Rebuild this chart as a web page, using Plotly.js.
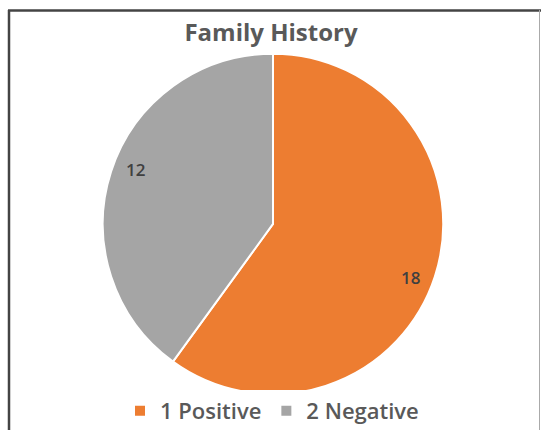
<!DOCTYPE html>
<html>
<head>
<meta charset="utf-8">
<script src="https://cdn.plot.ly/plotly-3.0.1.min.js"></script>
<style>
html,body{margin:0;padding:0;background:#fff;}
#chart{width:541px;height:432px;}
</style>
</head>
<body>
<div id="chart"></div>
<script>
const categories = ["1 Positive", "2 Negative"];
const values = [18, 12];
const colors = ["#ED7D31", "#A5A5A5"];
const chartTitle = "Family History";

const W = 541, H = 432;
const px = x => x / W;
const py = y => 1 - y / H;

// pie geometry (pixels)
const cx = 273, cy = 225, R = 171;
const labelR = 0.865, labelTurn = 3.5; // label radius fraction, degrees

const trace = {
  type: "pie",
  labels: categories,
  values: values,
  sort: false,
  direction: "clockwise",
  rotation: 0,
  marker: {colors: colors, line: {color: "#ffffff", width: 2}},
  textinfo: "none",
  domain: {x: [px(cx - R), px(cx + R)], y: [py(cy + R), py(cy - R)]},
  hoverinfo: "label+value"
};

// data labels placed at each slice's mid angle
const total = values.reduce((a, b) => a + b, 0);
let cum = 0;
const annotations = values.map(v => {
  const mid = (cum + v / 2) / total * 360 + labelTurn;
  cum += v;
  const a = mid * Math.PI / 180;
  const x = cx + labelR * R * Math.sin(a);
  const y = cy - labelR * R * Math.cos(a);
  return {
    xref: "paper", yref: "paper", x: px(x), y: py(y),
    xanchor: "center", yanchor: "middle", showarrow: false,
    text: String(v),
    font: {family: "'Open Sans', sans-serif", size: 17, color: "#404040", weight: 600}
  };
});

const layout = {
  width: W, height: H,
  margin: {l: 0, r: 0, t: 0, b: 0},
  paper_bgcolor: "#ffffff",
  title: {
    text: chartTitle,
    x: px(271), xanchor: "center", xref: "paper",
    y: py(33), yanchor: "middle", yref: "paper",
    font: {family: "'Open Sans', sans-serif", size: 24, color: "#595959", weight: 700}
  },
  showlegend: true,
  legend: {
    orientation: "h", x: px(272), xanchor: "center", y: py(413), yanchor: "middle",
    font: {family: "'Open Sans', sans-serif", size: 22, color: "#595959", weight: 600},
    itemwidth: 30, traceorder: "normal"
  },
  annotations: annotations,
  shapes: [
    {type: "line", xref: "paper", yref: "paper", x0: px(8), x1: px(541), y0: py(10.5), y1: py(10.5), line: {color: "#444444", width: 2.5}},
    {type: "line", xref: "paper", yref: "paper", x0: px(9), x1: px(9), y0: py(10), y1: py(432), line: {color: "#444444", width: 2.5}},
    {type: "line", xref: "paper", yref: "paper", x0: px(539.5), x1: px(539.5), y0: py(10), y1: py(432), line: {color: "#aaaaaa", width: 1}}
  ]
};

Plotly.newPlot("chart", [trace], layout, {displayModeBar: false, staticPlot: true});
</script>
</body>
</html>
